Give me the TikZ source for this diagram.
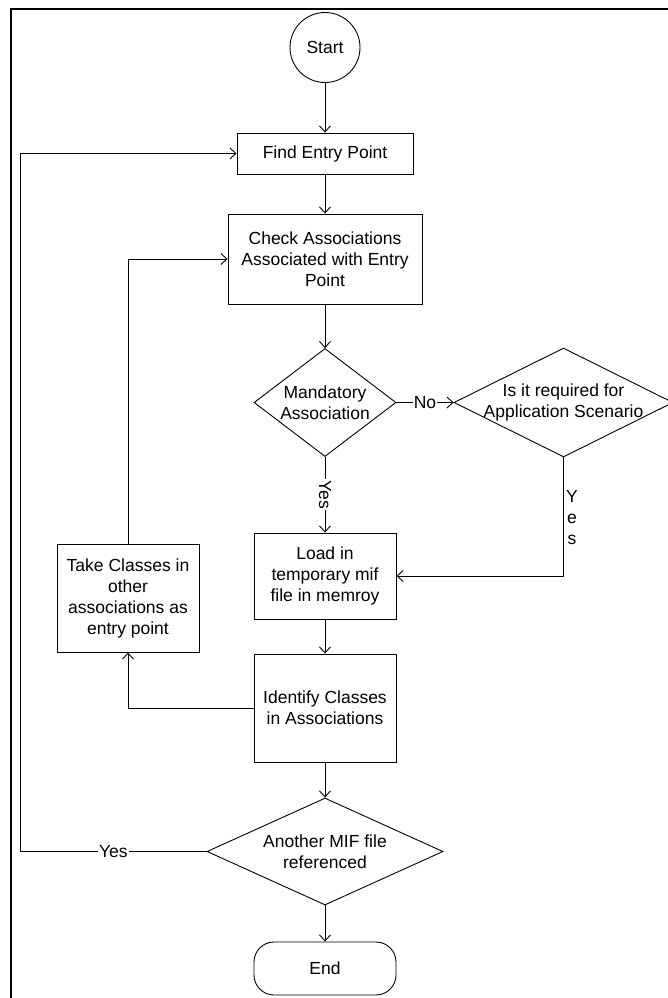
\documentclass[tikz,border=0pt]{standalone}
\usepackage{fontspec}
\setmainfont{Liberation Sans}
\usetikzlibrary{shapes.geometric,arrows.meta}
\begin{document}
\begin{tikzpicture}[x=1pt,y=-1pt,
  every node/.style={font=\fontsize{17.5}{21}\selectfont, align=center},
  pbox/.style={draw, line width=0.9pt, inner sep=0pt},
  dbox/.style={draw, diamond, line width=0.9pt, inner sep=0pt},
  flow/.style={draw, line width=0.9pt, -{Straight Barb[length=6pt,width=11pt]}},
  lbl/.style={fill=white, inner sep=1pt}
]
\useasboundingbox (0,0) rectangle (668,998);
\clip (0,0) rectangle (668,998);

% outer frame (only left and top edges fall inside the page)
\draw[line width=2.5pt] (11,1010) -- (11,9) -- (690,9);

% nodes
\node[draw, circle, line width=0.9pt, minimum size=70pt, inner sep=0pt] (start) at (325,47.5) {Start};
\node[pbox, minimum width=176pt, minimum height=41pt] (find) at (325,153.5) {Find Entry Point};
\node[pbox, minimum width=194pt, minimum height=90pt] (check) at (325,259) {Check Associations\\Associated with Entry\\Point};
\node[dbox, minimum width=142pt, minimum height=108pt] (mand) at (325,402.5) {};
\node (mandtxt) at (mand.center) {Mandatory\\Association};
\node[dbox, minimum width=219pt, minimum height=109pt] (req) at (563.5,402.5) {};
\node (reqtxt) at (req.center) {Is it required for\\Application Scenario};
\node[pbox, minimum width=142pt, minimum height=86pt] (load) at (325,576) {Load in\\temporary mif\\file in memroy};
\node[pbox, minimum width=142pt, minimum height=108pt] (take) at (128,598) {Take Classes in\\other\\associations as\\entry point};
\node[pbox, minimum width=142pt, minimum height=108pt] (ident) at (325,708) {Identify Classes\\in Associations};
\node[dbox, minimum width=236pt, minimum height=107pt] (another) at (325,851.5) {};
\node (anothertxt) at (another.center) {Another MIF file\\referenced};
\node[pbox, rounded corners=20pt, minimum width=142pt, minimum height=53pt] (end) at (325,968.5) {End};

% connectors
\draw[flow] (start) -- (find);
\draw[flow] (find) -- (check);
\draw[flow] (check) -- (mand.north);
\draw[flow] (mand.east) -- node[lbl] {No} (req.west);
\draw[flow] (mand.south) -- node[lbl, rotate=-90] {Yes} (load.north);
\draw[flow] (req.south) |- (load.east);
\node (yesr) at (572,518) {Y\\e\\s};
\draw[flow] (load) -- (ident);
\draw[flow] (ident.west) -| (take.south);
\draw[flow] (take.north) |- (check.west);
\draw[flow] (ident) -- (another.north);
\coordinate (loopc) at (20,851.5);
\draw[flow] (another.west) -- node[lbl] {Yes} (loopc) |- (find.west);
\draw[flow] (another.south) -- (end.north);
\end{tikzpicture}
\end{document}
